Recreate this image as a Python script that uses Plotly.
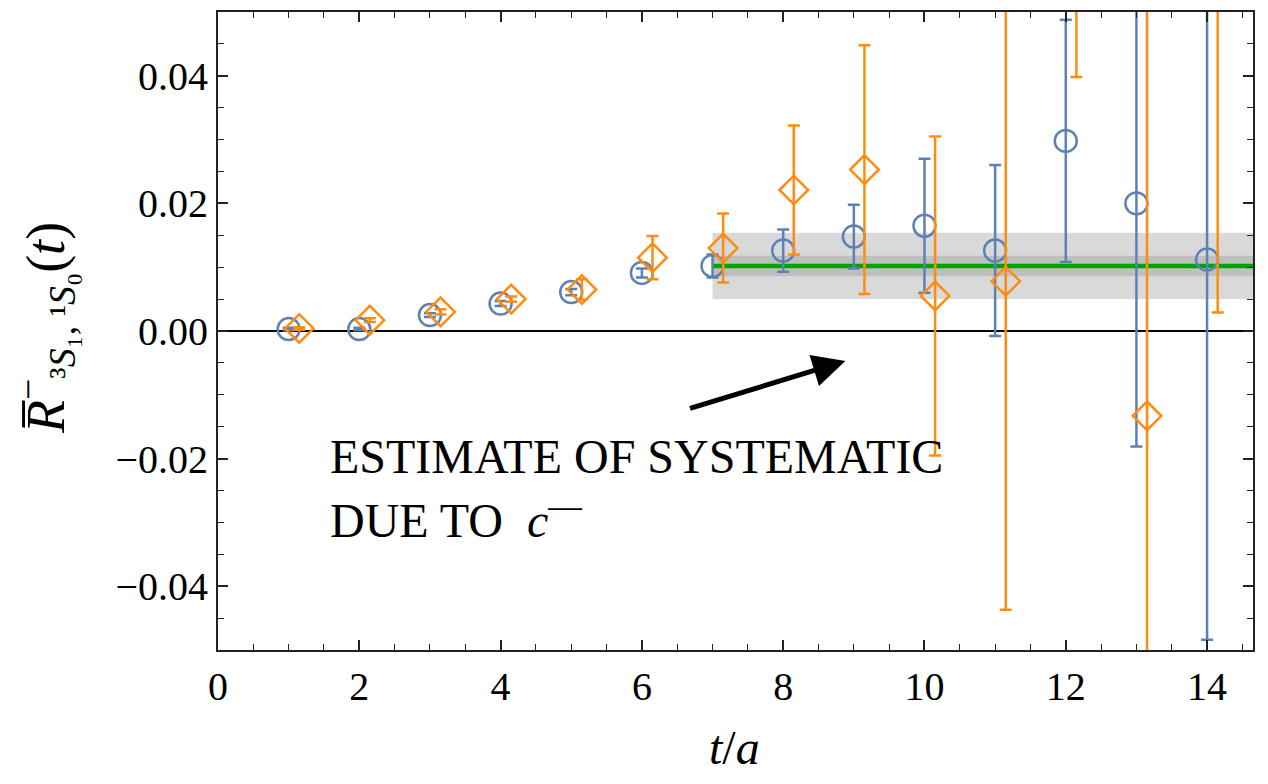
import plotly.graph_objects as go

# ---- data ----
t_vals = [1, 2, 3, 4, 5, 6, 7, 8, 9, 10, 11, 12, 13, 14]
orange_offset = 0.15

blue_y = [0.0003, 0.0003, 0.0025, 0.0043, 0.0061, 0.0091, 0.0102, 0.0126,
          0.0148, 0.0165, 0.0126, 0.0298, 0.0200, 0.0112]
blue_err = [0.0002, 0.0002, 0.0003, 0.0004, 0.0005, 0.0007, 0.0018, 0.0033,
            0.0050, 0.0105, 0.0134, 0.0190, 0.0381, 0.0596]

orange_y = [0.0004, 0.0017, 0.0030, 0.0050, 0.0065, 0.0115, 0.0130, 0.0221,
            0.0253, 0.0055, 0.0078, 0.0650, -0.0133, 0.0600]
orange_err = [0.0002, 0.0003, 0.0004, 0.0004, 0.0016, 0.0034, 0.0054, 0.0101,
              0.0195, 0.0250, 0.0515, 0.0252, 0.0800, 0.0571]

fit_start = 7
fit_end = 15
fit_value = 0.0102
fit_inner = 0.0016
fit_outer = 0.0052

x_tickvals = [0, 2, 4, 6, 8, 10, 12, 14]
x_ticktext = ["0", "2", "4", "6", "8", "10", "12", "14"]
y_tickvals = [-0.04, -0.02, 0.0, 0.02, 0.04]
y_ticktext = ["\u22120.04", "\u22120.02", "0.00", "0.02", "0.04"]

BLUE = "#5E81B5"
ORANGE = "#FF8C10"
GREEN = "#00A400"
FONT = "Liberation Serif"

fig = go.Figure()

# bands
fig.add_shape(type="rect", xref="x", yref="y", x0=fit_start, x1=fit_end,
              y0=fit_value - fit_outer, y1=fit_value + fit_outer,
              fillcolor="#d9d9d9", line=dict(width=0), layer="below")
fig.add_shape(type="rect", xref="x", yref="y", x0=fit_start, x1=fit_end,
              y0=fit_value - fit_inner, y1=fit_value + fit_inner,
              fillcolor="#bfbfbf", line=dict(width=0), layer="below")

fig.add_trace(go.Scatter(x=[fit_start, fit_end], y=[fit_value, fit_value],
                         mode="lines", line=dict(color=GREEN, width=4.5),
                         showlegend=False, hoverinfo="skip"))

fig.add_trace(go.Scatter(
    x=t_vals, y=blue_y, mode="markers",
    marker=dict(symbol="circle-open", size=22, color=BLUE, line=dict(width=2.5, color=BLUE)),
    error_y=dict(type="data", array=blue_err, visible=True, color=BLUE,
                 thickness=2.5, width=6),
    showlegend=False))

fig.add_trace(go.Scatter(
    x=[t + orange_offset for t in t_vals], y=orange_y, mode="markers",
    marker=dict(symbol="diamond-open", size=22, color=ORANGE, line=dict(width=2.5, color=ORANGE)),
    error_y=dict(type="data", array=orange_err, visible=True, color=ORANGE,
                 thickness=2.5, width=6),
    showlegend=False))

# annotations
fig.add_annotation(xref="x", yref="y", x=8.88, y=-0.0047, ax=6.66, ay=-0.0122,
                   axref="x", ayref="y", showarrow=True, arrowhead=2,
                   arrowsize=1.3, arrowwidth=5, arrowcolor="black", text="")
fig.add_annotation(xref="x", yref="y", x=1.56, y=-0.0197, xanchor="left", yanchor="middle",
                   text="ESTIMATE OF SYSTEMATIC", showarrow=False,
                   font=dict(family=FONT, size=48, color="black"))
fig.add_annotation(xref="x", yref="y", x=1.56, y=-0.0292, xanchor="left", yanchor="middle",
                   text="DUE TO  <i>c</i><sup>\u2014</sup>", showarrow=False,
                   font=dict(family=FONT, size=48, color="black"))

fig.add_annotation(xref="paper", yref="paper", x=-0.167, y=0.505, textangle=-90,
                   xanchor="center", yanchor="middle", showarrow=False,
                   text="<i>R\u0305</i><sup>\u2212</sup><sub>\u00b3<i>S</i>\u2081, \u00b9<i>S</i>\u2080</sub>(<i>t</i>)",
                   font=dict(family=FONT, size=54, color="black"))
fig.add_annotation(xref="paper", yref="paper", x=0.4995, y=-0.153,
                   xanchor="center", yanchor="middle", showarrow=False,
                   text="<i>t</i>/<i>a</i>",
                   font=dict(family=FONT, size=48, color="black"))

axis_common = dict(showline=True, linecolor="#222222", linewidth=2, mirror="allticks",
                   ticks="inside", ticklen=10, tickwidth=1.5, tickcolor="#222222",
                   showgrid=False, tickfont=dict(family=FONT, size=40, color="black"))

fig.update_xaxes(range=[0, 14.65], tickvals=x_tickvals, ticktext=x_ticktext,
                 zeroline=False,
                 minor=dict(ticks="inside", ticklen=6, tickwidth=1.2, dtick=0.5,
                            tick0=0, tickcolor="#222222", showgrid=False),
                 **axis_common)
fig.update_yaxes(range=[-0.05, 0.05], tickvals=y_tickvals, ticktext=y_ticktext,
                 zeroline=True, zerolinecolor="black", zerolinewidth=2,
                 minor=dict(ticks="inside", ticklen=6, tickwidth=1.2, dtick=0.005,
                            tick0=0, tickcolor="#222222", showgrid=False),
                 **axis_common)

# page body has an 8px margin, so the figure is sized/offset to compensate
fig.update_layout(width=1260, height=776, plot_bgcolor="white", paper_bgcolor="white",
                  margin=dict(l=210, r=15, t=2, b=134), showlegend=False,
                  font=dict(family=FONT, color="black"))

fig.write_html("out.html")
